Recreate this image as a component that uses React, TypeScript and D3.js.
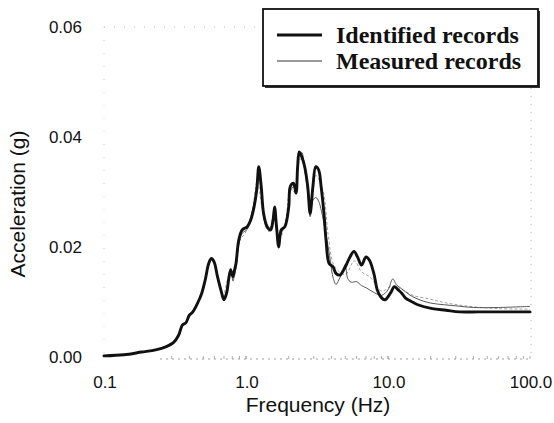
import React from "react";
import * as d3 from "d3";

const FREQ_ID = [0.1, 0.138, 0.184, 0.231, 0.275, 0.308, 0.336, 0.356, 0.377, 0.399, 0.422, 0.46, 0.488, 0.516, 0.546, 0.57, 0.596, 0.63, 0.67, 0.7, 0.73, 0.76, 0.78, 0.81, 0.83, 0.85, 0.89, 0.94, 1.02, 1.08, 1.14, 1.19, 1.23, 1.28, 1.33, 1.41, 1.49, 1.55, 1.59, 1.64, 1.7, 1.77, 1.88, 2.0, 2.05, 2.16, 2.25, 2.31, 2.37, 2.47, 2.59, 2.72, 2.83, 2.96, 3.1, 3.25, 3.38, 3.54, 3.66, 3.85, 4.1, 4.3, 4.58, 5.0, 5.4, 5.76, 6.1, 6.5, 7.0, 7.4, 7.95, 8.4, 8.85, 9.5, 10.4, 11.1, 11.8, 12.5, 13.3, 14.6, 16.2, 20.5, 25.6, 32, 43, 57, 76, 100];
const ACC_ID = [0.0002, 0.0004, 0.0009, 0.0013, 0.0019, 0.0026, 0.004, 0.0058, 0.0062, 0.0076, 0.0082, 0.01, 0.0116, 0.014, 0.017, 0.0179, 0.0173, 0.0146, 0.0119, 0.0104, 0.0116, 0.0146, 0.0158, 0.0146, 0.0158, 0.017, 0.0213, 0.0231, 0.0237, 0.0249, 0.0273, 0.0304, 0.0346, 0.031, 0.0261, 0.0237, 0.0231, 0.0249, 0.0273, 0.0237, 0.02, 0.0231, 0.0237, 0.0273, 0.031, 0.0316, 0.0298, 0.0346, 0.0373, 0.0364, 0.0346, 0.031, 0.0261, 0.031, 0.0346, 0.034, 0.031, 0.0261, 0.0213, 0.017, 0.0164, 0.0152, 0.0149, 0.0164, 0.0182, 0.0192, 0.0182, 0.0167, 0.0182, 0.0176, 0.0152, 0.0122, 0.011, 0.0104, 0.0116, 0.0128, 0.0122, 0.0116, 0.0107, 0.0101, 0.0095, 0.0088, 0.0085, 0.0082, 0.0082, 0.0082, 0.0082, 0.0082];

const FREQ_MEAS = [0.1, 0.14, 0.18, 0.23, 0.27, 0.31, 0.34, 0.36, 0.38, 0.4, 0.42, 0.46, 0.49, 0.52, 0.55, 0.57, 0.6, 0.63, 0.67, 0.7, 0.73, 0.76, 0.78, 0.81, 0.83, 0.85, 0.89, 0.94, 1.02, 1.08, 1.14, 1.19, 1.23, 1.28, 1.33, 1.41, 1.49, 1.55, 1.59, 1.64, 1.7, 1.77, 1.88, 2.0, 2.05, 2.16, 2.25, 2.31, 2.37, 2.47, 2.59, 2.72, 2.83, 2.96, 3.1, 3.25, 3.4, 3.6, 3.85, 4.1, 4.3, 4.5, 4.8, 5.0, 5.2, 5.5, 6, 6.5, 7, 8, 9, 10, 10.8, 11.5, 12.5, 14, 16, 20, 25, 30, 40, 60, 100];
const ACC_MEAS = [0.0002, 0.0004, 0.0009, 0.0012, 0.0018, 0.0027, 0.0042, 0.0057, 0.0063, 0.0075, 0.0083, 0.0101, 0.0117, 0.0142, 0.0171, 0.0178, 0.0171, 0.0144, 0.0118, 0.0106, 0.012, 0.0152, 0.0162, 0.0138, 0.015, 0.0162, 0.0205, 0.0225, 0.0232, 0.0255, 0.0279, 0.0298, 0.0335, 0.03, 0.0255, 0.0233, 0.0236, 0.0255, 0.0268, 0.023, 0.0205, 0.0225, 0.024, 0.028, 0.03, 0.031, 0.03, 0.034, 0.0368, 0.0372, 0.034, 0.03, 0.0255, 0.0285, 0.029, 0.0283, 0.0265, 0.0232, 0.019, 0.0145, 0.0132, 0.014, 0.0155, 0.0168, 0.0143, 0.0136, 0.0137, 0.013, 0.0126, 0.0117, 0.0112, 0.0122, 0.0142, 0.0131, 0.0124, 0.0114, 0.0106, 0.0098, 0.0095, 0.0093, 0.009, 0.009, 0.0092];

const FREQ_MEAS2 = [0.7, 0.76, 0.83, 0.9, 1.0, 1.1, 1.2, 1.3, 1.45, 1.6, 1.72, 1.9, 2.05, 2.2, 2.4, 2.6, 2.83, 3.1, 3.5, 3.8, 4.2, 5.0, 5.8, 6.5, 7.5, 9, 10.5, 12, 15, 20, 25, 35, 60, 100];
const ACC_MEAS2 = [0.0108, 0.0148, 0.0155, 0.021, 0.0228, 0.026, 0.032, 0.027, 0.0228, 0.026, 0.0215, 0.0245, 0.0305, 0.03, 0.036, 0.0345, 0.027, 0.033, 0.03, 0.022, 0.0165, 0.015, 0.0175, 0.0155, 0.0145, 0.012, 0.0128, 0.0125, 0.0112, 0.0105, 0.0099, 0.0093, 0.0088, 0.0087];

const Y_TICKS = [0, 0.02, 0.04, 0.06];
const Y_TICK_LABELS = ["0.00", "0.02", "0.04", "0.06"];
const X_TICKS = [0.1, 1, 10, 100];
const X_TICK_LABELS = ["0.1", "1.0", "10.0", "100.0"];
const LEGEND_LABELS = ["Identified records", "Measured records"];

export default function App() {
  const W = 554;
  const H = 423;
  const left = 104, right = 530, top = 27, bottom = 357;
  const x = d3.scaleLog().domain([0.1, 100]).range([left, right]);
  const y = d3.scaleLinear().domain([0, 0.06]).range([bottom, top]);

  const mk = (fs: number[], as: number[]) =>
    d3.line<number>()
      .x((_, i) => x(fs[i]))
      .y((a) => y(a))
      .curve(d3.curveCatmullRom.alpha(0.5))(as) as string;

  const minorTicks: number[] = [];
  for (let dec = 0.1; dec < 100; dec *= 10) {
    for (let k = 1; k <= 10; k++) minorTicks.push(+(dec * k).toPrecision(3));
  }

  const sans = "Arial, 'Liberation Sans', Helvetica, sans-serif";
  const serif = "'Times New Roman', 'Liberation Serif', serif";

  return (
    <svg width={W} height={H} style={{ position: "absolute", left: 0, top: 0, background: "#fff" }}>
      <rect x={0} y={0} width={W} height={H} fill="#fff" />
      {/* faint frame */}
      <line x1={left} x2={263} y1={top} y2={top} stroke="#aaa" strokeWidth={0.8} strokeDasharray="1,9" />
      <line x1={left} x2={left} y1={top} y2={bottom} stroke="#bbb" strokeWidth={0.8} strokeDasharray="1,12" />
      <line x1={right + 1} x2={right + 1} y1={88} y2={bottom + 2} stroke="#999" strokeWidth={0.8} strokeDasharray="1,7" />
      <line x1={160} x2={right + 1} y1={bottom + 2} y2={bottom + 2} stroke="#888" strokeWidth={0.8} strokeDasharray="2,4" />
      {minorTicks.filter((t) => t >= 0.3).map((t, i) => (
        <line key={i} x1={x(t)} x2={x(t)} y1={bottom + 2} y2={bottom - 1} stroke="#999" strokeWidth={0.8} />
      ))}

      {/* measured lines */}
      <path d={mk(FREQ_MEAS2, ACC_MEAS2)} fill="none" stroke="#8a8a8a" strokeWidth={0.8} strokeDasharray="3,2" />
      <path d={mk(FREQ_MEAS, ACC_MEAS)} fill="none" stroke="#444" strokeWidth={0.9} />
      {/* identified line */}
      <path d={mk(FREQ_ID, ACC_ID)} fill="none" stroke="#111" strokeWidth={2.9} strokeLinejoin="round" strokeLinecap="round" />

      {/* y tick labels */}
      {Y_TICKS.map((t, i) => (
        <text key={i} x={82} y={y(t) + 6} textAnchor="end" fontFamily={sans} fontSize={17} fill="#111">
          {Y_TICK_LABELS[i]}
        </text>
      ))}
      {/* x tick labels */}
      {X_TICKS.map((t, i) => (
        <text key={i} x={x(t) + 1} y={388} textAnchor="middle" fontFamily={sans} fontSize={17} fill="#111">
          {X_TICK_LABELS[i]}
        </text>
      ))}
      <text x={(left + right) / 2 + 1} y={412} textAnchor="middle" fontFamily={sans} fontSize={21} fill="#111">
        Frequency (Hz)
      </text>
      <text transform={`translate(25,${(top + bottom) / 2 + 12}) rotate(-90)`} textAnchor="middle" fontFamily={sans} fontSize={21} fill="#111">
        Acceleration (g)
      </text>

      {/* legend */}
      <rect x={265} y={11} width={275} height={77} fill="#333" />
      <rect x={263} y={9} width={275} height={77} fill="#fff" stroke="#111" strokeWidth={1.8} />
      <line x1={277} x2={322} y1={35} y2={35} stroke="#111" strokeWidth={3} />
      <line x1={277} x2={322} y1={61} y2={61} stroke="#333" strokeWidth={1} />
      <text x={336} y={43} fontFamily={serif} fontWeight="bold" fontSize={24} fill="#111">
        {LEGEND_LABELS[0]}
      </text>
      <text x={336} y={69} fontFamily={serif} fontWeight="bold" fontSize={24} fill="#111">
        {LEGEND_LABELS[1]}
      </text>
    </svg>
  );
}
